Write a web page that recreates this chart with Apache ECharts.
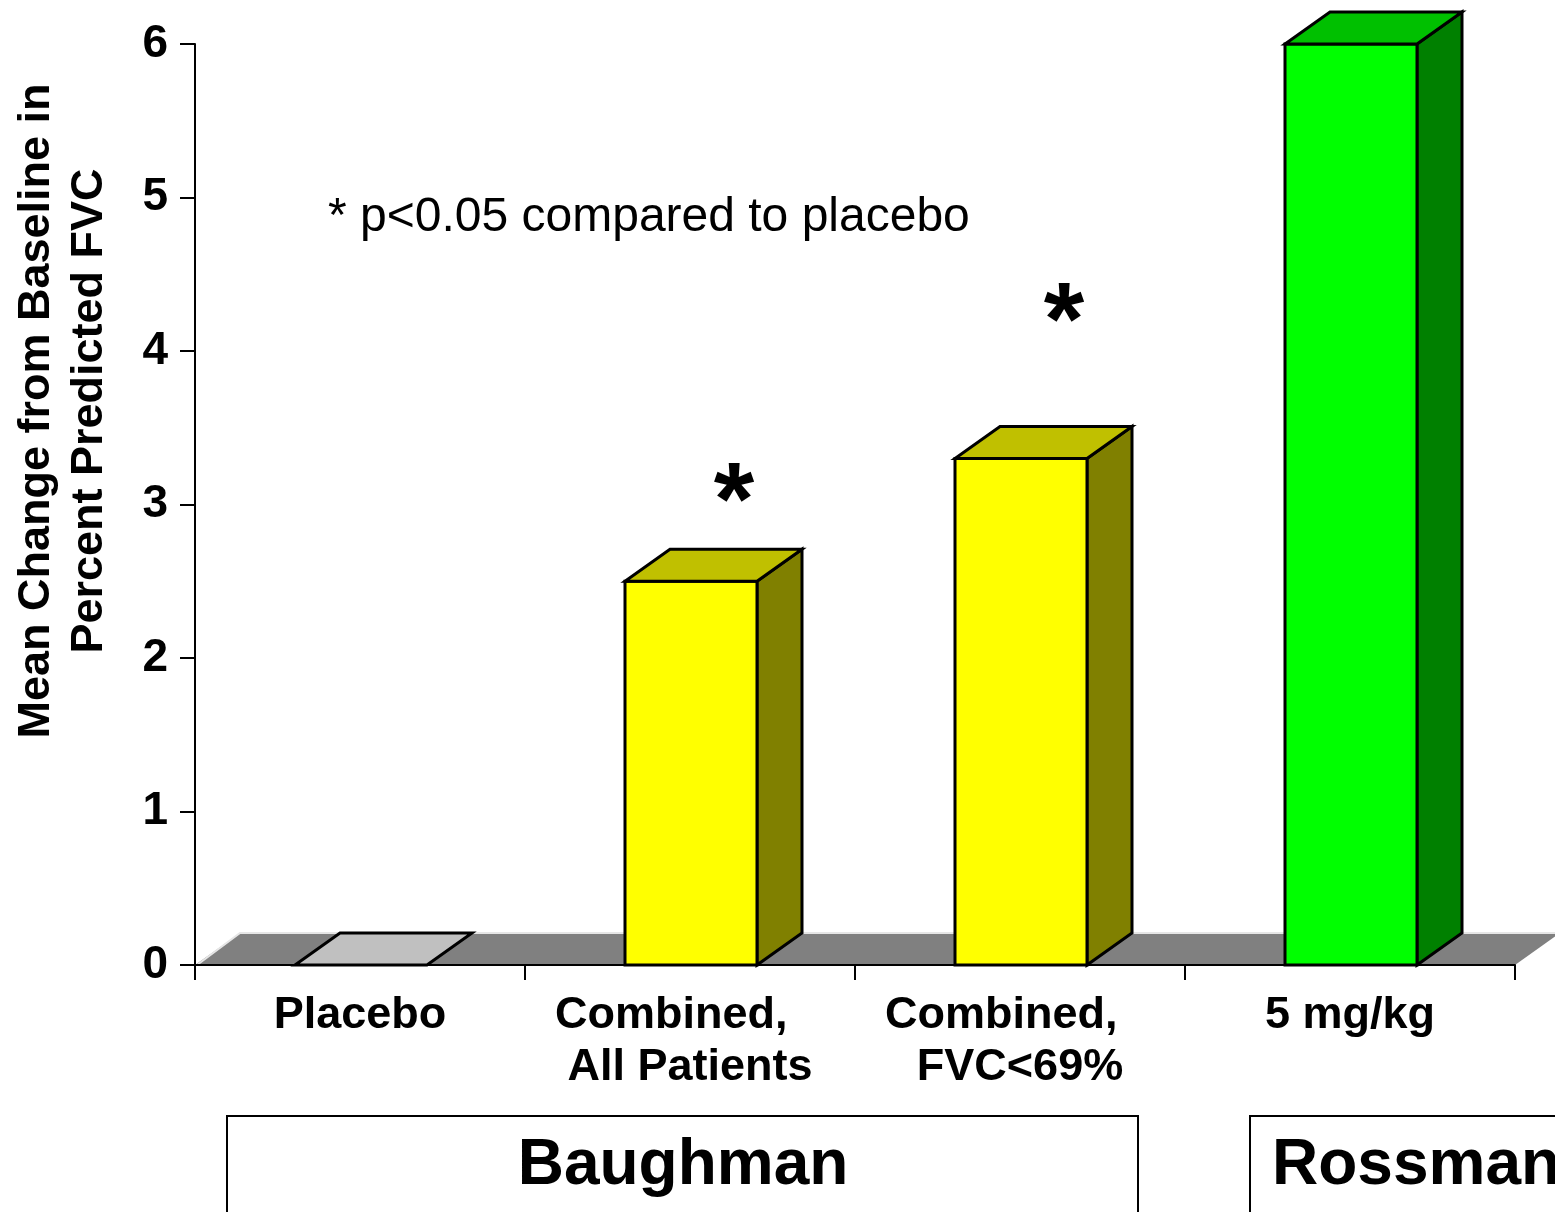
<!DOCTYPE html>
<html>
<head>
<meta charset="utf-8">
<script src="https://cdn.jsdelivr.net/npm/echarts@6/dist/echarts.min.js"></script>
<style>
  html, body { margin: 0; padding: 0; background: #fff; }
  #chart { width: 1555px; height: 1212px; }
</style>
</head>
<body>
<div id="chart"></div>
<script>
// Categories and mean change values (percent predicted FVC)
const categories = ['Placebo', 'Combined,   \nAll Patients', 'Combined,   \nFVC<69%', '5 mg/kg'];
const meanChange = [0, 2.5, 3.3, 6.0];
// Significance markers (category index, height of the star)
const starCategories = [1, 2];
const starHeights = [2.99, 4.16];
const yTicks = [0, 1, 2, 3, 4, 5, 6];

// Face colours per bar: front, top, side
const barFront = ['#C0C0C0', '#FFFF00', '#FFFF00', '#00FF00'];
const barTop = ['#C0C0C0', '#C0C000', '#C0C000', '#00C000'];
const barSide = ['#808080', '#808000', '#808000', '#008000'];

const DX = 45, DY = -32;   // oblique depth of the 3D effect
const FONT = '"Liberation Sans", Arial, sans-serif';

const chart = echarts.init(document.getElementById('chart'), null, { renderer: 'canvas' });

function renderFloor(params, api) {
  const half = api.size([1, 0])[0] / 2;
  const first = api.coord([0, 0]);
  const last = api.coord([categories.length - 1, 0]);
  const x0 = first[0] - half, x1 = last[0] + half, y = first[1];
  return {
    type: 'group',
    children: [
      {
        type: 'polygon',
        shape: { points: [[x0, y], [x1, y], [x1 + DX, y + DY], [x0 + DX, y + DY]] },
        style: { fill: '#808080', stroke: null }
      },
      {
        type: 'polyline',
        shape: { points: [[x0 + 2, y], [x0 + DX, y + DY], [x1 + DX, y + DY]] },
        style: { stroke: '#E6E6E6', lineWidth: 2, fill: null }
      }
    ]
  };
}

function renderBar(params, api) {
  const idx = api.value(0);
  const val = api.value(1);
  const base = api.coord([idx, 0]);
  const top = api.coord([idx, val]);
  const w = api.size([1, 0])[0] * 0.4;
  const x0 = base[0] - w / 2 + 1, x1 = x0 + w;
  const by = base[1], ty = top[1];
  const line = { stroke: '#000', lineWidth: 3, lineJoin: 'miter' };
  const children = [];
  if (by - ty > 0.5) {
    children.push({
      type: 'polygon',
      shape: { points: [[x1, ty], [x1 + DX, ty + DY], [x1 + DX, by + DY], [x1, by]] },
      style: Object.assign({ fill: barSide[idx] }, line)
    });
    children.push({
      type: 'rect',
      shape: { x: x0, y: ty, width: w, height: by - ty },
      style: Object.assign({ fill: barFront[idx] }, line)
    });
  }
  children.push({
    type: 'polygon',
    shape: { points: [[x0, ty], [x1, ty], [x1 + DX, ty + DY], [x0 + DX, ty + DY]] },
    style: Object.assign({ fill: barTop[idx] }, line)
  });
  return { type: 'group', children: children };
}

// Asterisk drawn above a significant bar, shifted right to sit over the 3D box
function renderStar(params, api) {
  const p = api.coord([api.value(0), api.value(1)]);
  return {
    type: 'text',
    x: p[0] + 44,
    y: p[1],
    style: {
      text: '*',
      fill: '#000',
      font: 'bold 104px ' + FONT,
      align: 'center',
      verticalAlign: 'middle'
    }
  };
}

const option = {
  animation: false,
  backgroundColor: '#ffffff',
  grid: { left: 195, right: 40, top: 44, bottom: 247, containLabel: false },
  xAxis: {
    type: 'category',
    data: categories,
    boundaryGap: true,
    z: 10,
    axisLine: { show: true, lineStyle: { color: '#000', width: 2 } },
    axisTick: { show: true, length: 15, interval: 0, lineStyle: { color: '#000', width: 2 } },
    axisLabel: {
      interval: 0,
      margin: 25,
      color: '#000',
      fontFamily: FONT,
      fontWeight: 'bold',
      fontSize: 45,
      lineHeight: 52
    },
    splitLine: { show: false }
  },
  yAxis: {
    type: 'value',
    min: yTicks[0],
    max: yTicks[yTicks.length - 1],
    interval: 1,
    z: 10,
    axisLine: { show: true, lineStyle: { color: '#000', width: 2 } },
    axisTick: { show: true, length: 15, lineStyle: { color: '#000', width: 2 } },
    axisLabel: {
      margin: 27,
      color: '#000',
      fontFamily: FONT,
      fontWeight: 'bold',
      fontSize: 46
    },
    splitLine: { show: false }
  },
  series: [
    {
      type: 'custom',
      name: 'floor',
      renderItem: renderFloor,
      data: [[0, 0]],
      z: 1,
      silent: true
    },
    {
      type: 'custom',
      name: 'Mean change',
      renderItem: renderBar,
      encode: { x: 0, y: 1 },
      data: meanChange.map((v, i) => [i, v]),
      z: 2
    },
    {
      type: 'custom',
      name: 'significance',
      renderItem: renderStar,
      encode: { x: 0, y: 1 },
      data: starCategories.map((c, i) => [c, starHeights[i]]),
      z: 5,
      silent: true
    }
  ],
  graphic: [
    {
      type: 'text',
      x: 63,
      y: 411,
      rotation: Math.PI / 2,
      style: {
        text: 'Mean Change from Baseline in\nPercent Predicted FVC',
        fill: '#000',
        font: 'bold 45px ' + FONT,
        lineHeight: 53,
        align: 'center',
        verticalAlign: 'middle'
      }
    },
    {
      type: 'text',
      x: 328,
      y: 218,
      style: {
        text: '* p<0.05 compared to placebo',
        fill: '#000',
        font: '48px ' + FONT,
        align: 'left',
        verticalAlign: 'middle'
      }
    },
    {
      type: 'rect',
      shape: { x: 227, y: 1116, width: 911, height: 200 },
      style: { fill: '#fff', stroke: '#000', lineWidth: 2 }
    },
    {
      type: 'text',
      x: 683,
      y: 1166,
      style: {
        text: 'Baughman',
        fill: '#000',
        font: 'bold 64px ' + FONT,
        align: 'center',
        verticalAlign: 'middle'
      }
    },
    {
      type: 'rect',
      shape: { x: 1250, y: 1116, width: 400, height: 200 },
      style: { fill: '#fff', stroke: '#000', lineWidth: 2 }
    },
    {
      type: 'text',
      x: 1272,
      y: 1166,
      style: {
        text: 'Rossman',
        fill: '#000',
        font: 'bold 64px ' + FONT,
        align: 'left',
        verticalAlign: 'middle'
      }
    }
  ]
};

chart.setOption(option);
</script>
</body>
</html>
